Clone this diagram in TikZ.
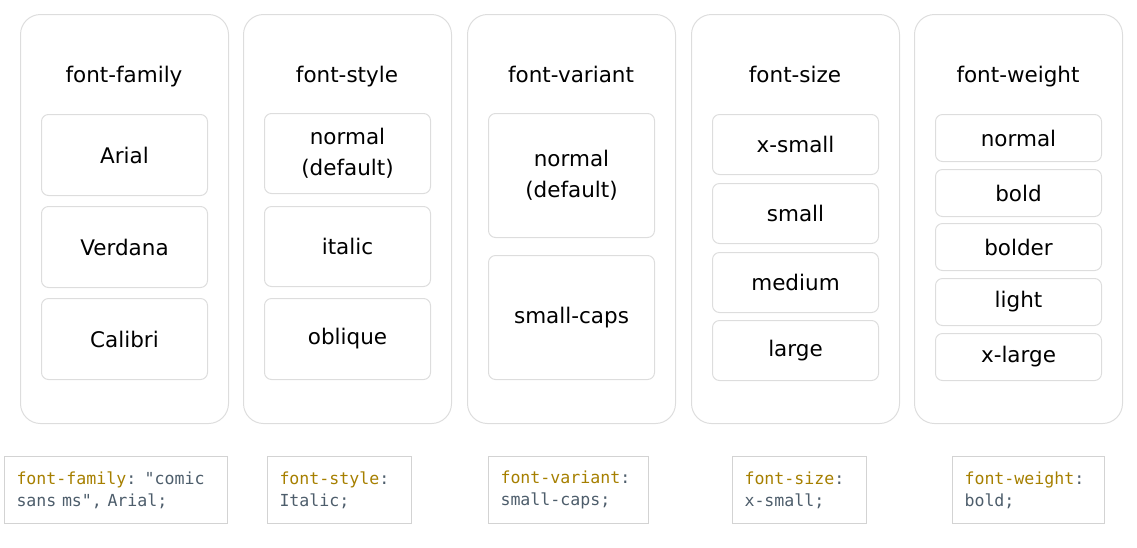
\documentclass[tikz,border=0pt]{standalone}
\usepackage{fontspec}
\setmainfont{DejaVu Sans}
\setmonofont{DejaVu Sans Mono}
\usetikzlibrary{positioning}

\definecolor{boxline}{HTML}{DDDDDD}
\definecolor{codeline}{HTML}{D3D3D3}
\definecolor{propname}{HTML}{A67F00}
\definecolor{propval}{HTML}{4D5D6B}

\begin{document}
\begin{tikzpicture}[x=1pt,y=-1pt,
    group/.style={draw=boxline,line width=1pt,rounded corners=20pt,anchor=north west,
        inner sep=0pt,minimum width=208pt,minimum height=409pt},
    title/.style={anchor=base,font=\fontsize{21.5}{25}\selectfont},
    item/.style={draw=boxline,line width=1pt,rounded corners=7pt,anchor=north west,
        inner sep=0pt,minimum width=166pt,minimum height=#1,align=center,
        font=\fontsize{21.5}{31}\selectfont},
    code/.style={draw=codeline,line width=1pt,anchor=north west,inner xsep=12pt,inner ysep=0pt,
        text width=#1,minimum height=67pt,align=left,text=propval,
        font=\ttfamily\fontsize{16.6}{22}\selectfont}
]
    \useasboundingbox (0,0) rectangle (1137,547);

    % font-family
    \node [group] (family) at (20,14) {};
    \node [title] (family-title) at (124,82) {font-family};
    \node [item=81pt] (family-arial) at (41,114) {Arial};
    \node [item=81pt] (family-verdana) at (41,206) {Verdana};
    \node [item=81pt] (family-calibri) at (41,298) {Calibri};

    % font-style
    \node [group] (style) at (243,14) {};
    \node [title] (style-title) at (347,82) {font-style};
    \node [item=80pt] (style-normal) at (264,113) {normal\\(default)};
    \node [item=80pt] (style-italic) at (264,206) {italic};
    \node [item=81pt] (style-oblique) at (264,298) {oblique};

    % font-variant
    \node [group] (variant) at (467,14) {};
    \node [title] (variant-title) at (571,82) {font-variant};
    \node [item=124pt] (variant-normal) at (488,113) {normal\\(default)};
    \node [item=124pt] (variant-caps) at (488,255) {small-caps};

    % font-size
    \node [group] (size) at (691,14) {};
    \node [title] (size-title) at (795,82) {font-size};
    \node [item=60pt] (size-xsmall) at (712,114) {x-small};
    \node [item=60pt] (size-small) at (712,183) {small};
    \node [item=60pt] (size-medium) at (712,252) {medium};
    \node [item=60pt] (size-large) at (712,320) {large};

    % font-weight
    \node [group] (weight) at (914,14) {};
    \node [title] (weight-title) at (1018,82) {font-weight};
    \node [item=47pt] (weight-normal) at (935,114) {normal};
    \node [item=47pt] (weight-bold) at (935,169) {bold};
    \node [item=47pt] (weight-bolder) at (935,223) {bolder};
    \node [item=47pt] (weight-light) at (935,278) {light};
    \node [item=47pt] (weight-xlarge) at (935,333) {x-large};

    % css snippets
    \node [code=199pt] (family-code) at (4,456)
        {\textcolor{propname}{font-family}: "comic\\sans\ ms",\ Arial;};
    \node [code=120pt] (style-code) at (267,456)
        {\textcolor{propname}{font-style}:\\Italic;};
    \node [code=136pt] (variant-code) at (488,456)
        {\textcolor{propname}{font-variant}:\\small-caps;};
    \node [code=110pt] (size-code) at (732,456)
        {\textcolor{propname}{font-size}:\\x-small;};
    \node [code=128pt] (weight-code) at (952,456)
        {\textcolor{propname}{font-weight}:\\bold;};
\end{tikzpicture}
\end{document}
